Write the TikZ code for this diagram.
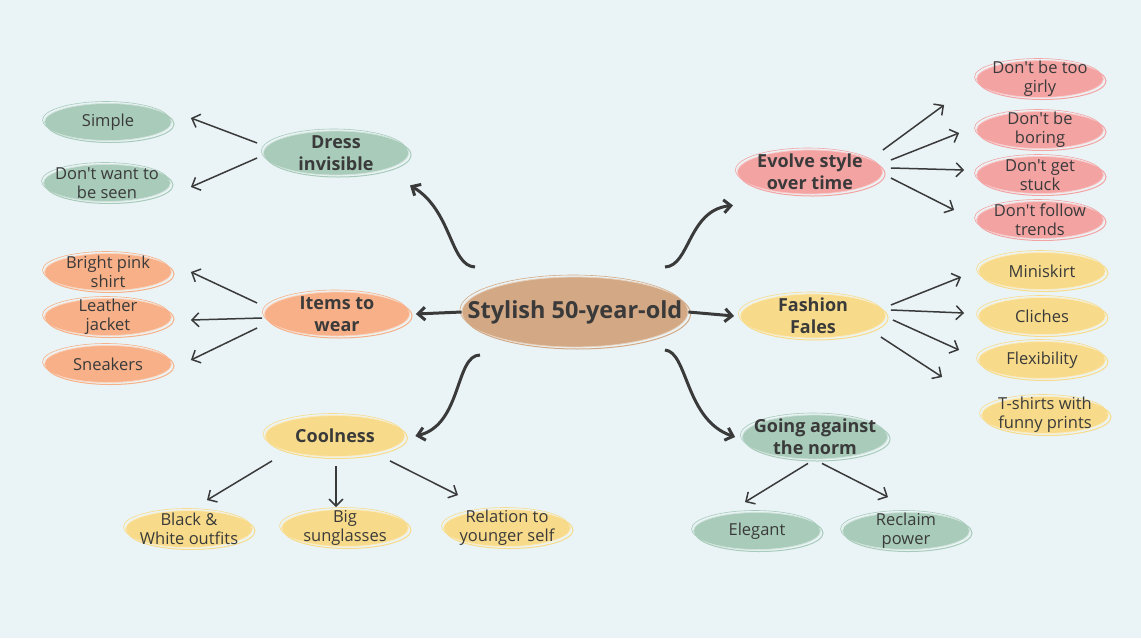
\documentclass[tikz,border=0pt]{standalone}
\usepackage{fontspec}
\setmainfont{Open Sans}[Ligatures=TeXOff]
\usetikzlibrary{arrows.meta,shapes.geometric}

\definecolor{bgblue}{HTML}{EAF4F6}
\definecolor{ink}{HTML}{3A3A3A}
\definecolor{hubtan}{HTML}{D3A985}
\definecolor{sage}{HTML}{A8CBBA}
\definecolor{rose}{HTML}{F4A3A3}
\definecolor{peach}{HTML}{F7B088}
\definecolor{butter}{HTML}{F7DB8A}

\tikzset{
  blob/.style={ellipse, fill=#1, draw=white!45!#1, line width=.8pt,
    inner xsep=-30pt, inner ysep=-14pt, align=center, text=ink,
    postaction={draw=#1, line width=1pt, transform canvas={shift={(2.5pt,-2pt)}}},
    postaction={draw=#1, line width=.6pt, transform canvas={shift={(-2pt,2pt)}}}},
  leaf/.style={blob=#1, minimum width=127pt, minimum height=37pt,
    font=\fontsize{16.5}{19}\selectfont},
  topic/.style={blob=#1, minimum width=145pt, minimum height=44pt,
    font=\fontsize{18}{22}\selectfont\bfseries},
  twig/.style={-{Straight Barb[length=7pt,width=14pt]}, line width=1.5pt, ink},
  stem/.style={-{Straight Barb[length=7pt,width=13pt]}, line width=3pt, ink}
}

\begin{document}
\begin{tikzpicture}[x=1pt, y=-1pt]
  % background, same size as the picture
  \fill[bgblue] (0,0) rectangle (1141,638);
  \useasboundingbox (0,0) rectangle (1141,638);

  % centre
  \node[blob=hubtan, minimum width=226pt, minimum height=70pt,
        font=\fontsize{23.5}{26}\selectfont\bfseries] (hub) at (575,312) {Stylish 50-year-old};

  % left side
  \node[topic=sage] (dress) at (336,153) {Dress\\invisible};
  \node[leaf=sage] (simple) at (108,122) {Simple};
  \node[leaf=sage] (seen) at (107,183) {Don't want to\\be seen};

  \node[topic=peach] (items) at (337,314) {Items to\\wear};
  \node[leaf=peach] (pink) at (108,272) {Bright pink\\shirt};
  \node[leaf=peach] (leather) at (108,317) {Leather\\jacket};
  \node[leaf=peach] (sneakers) at (108,364) {Sneakers};

  \node[topic=butter, minimum width=140pt, minimum height=41pt] (cool) at (335,436) {Coolness};
  \node[leaf=butter] (bw) at (189,529) {Black \&\\White outfits};
  \node[leaf=butter] (sun) at (345,528) {Big\\sunglasses};
  \node[leaf=butter] (rel) at (507,528) {Relation to\\younger self};

  % right side
  \node[topic=rose] (evolve) at (810,172) {Evolve style\\over time};
  \node[leaf=rose] (girly) at (1040,79) {Don't be too\\girly};
  \node[leaf=rose] (boring) at (1040,130) {Don't be\\boring};
  \node[leaf=rose] (stuck) at (1040,175) {Don't get\\stuck};
  \node[leaf=rose] (trends) at (1040,220) {Don't follow\\trends};

  \node[topic=butter] (fashion) at (813,316) {Fashion\\Fales};
  \node[leaf=butter] (mini) at (1042,271) {Miniskirt};
  \node[leaf=butter] (cliches) at (1042,316) {Cliches};
  \node[leaf=butter] (flex) at (1042,360) {Flexibility};
  \node[leaf=butter] (tshirt) at (1045,415) {T-shirts with\\funny prints};

  \node[topic=sage] (norm) at (815,437) {Going against\\the norm};
  \node[leaf=sage] (elegant) at (757,531) {Elegant};
  \node[leaf=sage] (reclaim) at (906,531) {Reclaim\\power};

  % hub to topics
  \draw[stem] (hub.west) -- ([xshift=6pt]items.east);
  \draw[stem] (hub.east) -- ([xshift=-6pt]fashion.west);
  \draw[stem] ([shift={(-100,-45)}]hub.center) .. controls (450,266) and (452,210) .. ([shift={(74,10)}]dress.south);
  \draw[stem] ([shift={(90,-45)}]hub.center) .. controls (690,266) and (688,210) .. ([shift={(-77,11)}]evolve.south);
  \draw[stem] ([shift={(-95,43)}]hub.center) .. controls (455,355) and (462,425) .. ([xshift=10pt]cool.east);
  \draw[stem] ([shift={(90,38)}]hub.center) .. controls (688,352) and (685,420) .. ([xshift=-7pt]norm.west);

  % topics to leaves
  \draw[twig] ([shift={(-6,-10)}]dress.west) -- ([shift={(19,-4)}]simple.east);
  \draw[twig] ([shift={(-6,5)}]dress.west) -- ([shift={(20,4)}]seen.east);

  \draw[twig] ([shift={(-7,-11)}]items.west) -- ([shift={(19,0)}]pink.east);
  \draw[twig] ([shift={(-2,4)}]items.west) -- ([shift={(19,3)}]leather.east);
  \draw[twig] ([shift={(-7,14)}]items.west) -- ([shift={(19,-4)}]sneakers.east);

  \draw[twig] ([shift={(-63,4)}]cool.south) -- ([shift={(18,-10)}]bw.north);
  \draw[twig] ([shift={(1,9)}]cool.south) -- ([shift={(-9,-2)}]sun.north);
  \draw[twig] ([shift={(55,4)}]cool.south) -- ([shift={(-49,-14)}]rel.north);

  \draw[twig] ([shift={(0,-22)}]evolve.east) -- ([shift={(-32,26)}]girly.west);
  \draw[twig] ([shift={(8,-12)}]evolve.east) -- ([shift={(-17,3)}]boring.west);
  \draw[twig] ([shift={(8,-4)}]evolve.east) -- ([shift={(-12,-5)}]stuck.west);
  \draw[twig] ([shift={(8,6)}]evolve.east) -- ([shift={(-22,-10)}]trends.west);

  \draw[twig] ([shift={(5,-11)}]fashion.east) -- ([shift={(-17,6)}]mini.west);
  \draw[twig] ([shift={(5,-6)}]fashion.east) -- ([shift={(-14,-3)}]cliches.west);
  \draw[twig] ([shift={(7,4)}]fashion.east) -- ([shift={(-19,-10)}]flex.west);
  \draw[twig] ([shift={(-5,21)}]fashion.east) -- ([shift={(-39,-38)}]tshirt.west);

  \draw[twig] ([shift={(-7,4)}]norm.south) -- ([shift={(-12,-10)}]elegant.north);
  \draw[twig] ([shift={(7,4)}]norm.south) -- ([shift={(-18,-15)}]reclaim.north);
\end{tikzpicture}
\end{document}
